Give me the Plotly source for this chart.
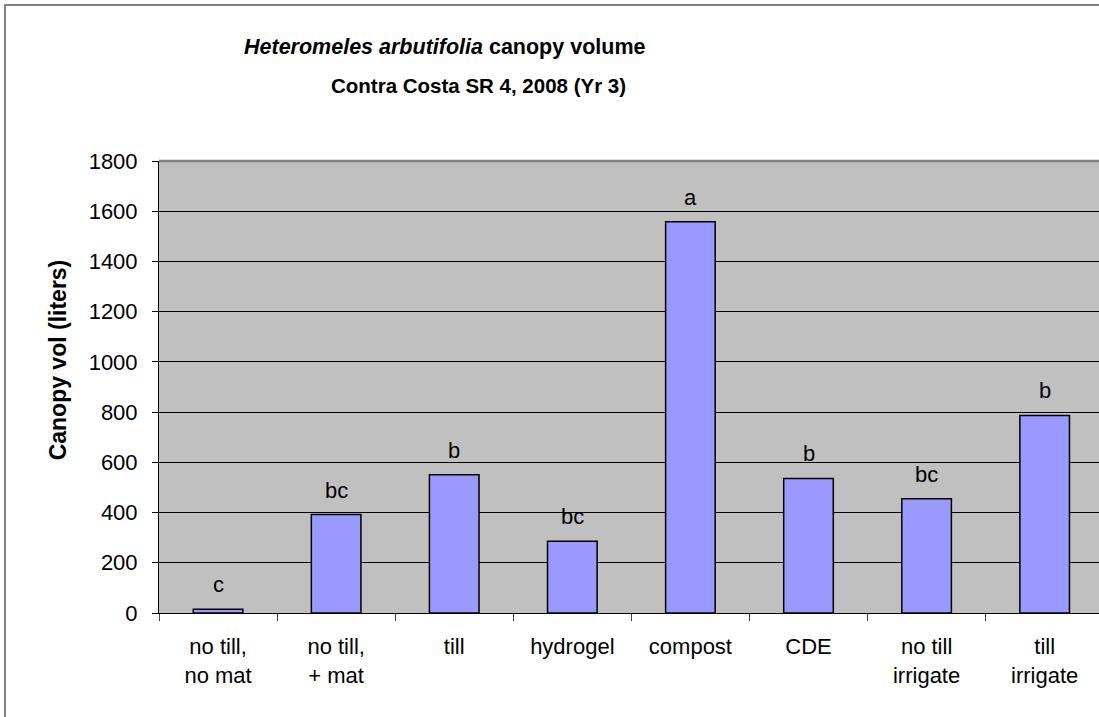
import plotly.graph_objects as go

# treatments and canopy volume (liters)
treatments = ["no till,<br>no mat", "no till,<br>+ mat", "till", "hydrogel",
              "compost", "CDE", "no till<br>irrigate", "till<br>irrigate"]
canopy_vol = [15, 392, 551, 286, 1558, 536, 455, 787]
sig_letters = ["c", "bc", "b", "bc", "a", "b", "bc", "b"]
y_ticks = [0, 200, 400, 600, 800, 1000, 1200, 1400, 1600, 1800]

FONT = "Arial, Liberation Sans, sans-serif"

fig = go.Figure()
fig.add_trace(go.Bar(
    x=treatments,
    y=canopy_vol,
    marker={'color': '#9999FF', 'line': {'color': 'black', 'width': 1.5}},
    hoverinfo='x+y',
))

for t, v, s in zip(treatments, canopy_vol, sig_letters):
    fig.add_annotation(x=t, y=v, text=s, showarrow=False, yanchor='bottom',
                       yshift=10, font={'size': 22, 'color': 'black', 'family': FONT})

# title, two separately centred lines like the original
fig.add_annotation(xref='paper', yref='paper', x=0.3043, y=1.252,
                   text="<b><i>Heteromeles arbutifolia</i> canopy volume</b>",
                   showarrow=False, xanchor='center', yanchor='middle',
                   font={'size': 21.5, 'color': 'black', 'family': FONT})
fig.add_annotation(xref='paper', yref='paper', x=0.3404, y=1.166,
                   text="<b>Contra Costa SR 4, 2008 (Yr 3)</b>",
                   showarrow=False, xanchor='center', yanchor='middle',
                   font={'size': 20.5, 'color': 'black', 'family': FONT})
fig.add_annotation(xref='paper', yref='paper', x=-0.108, y=0.56,
                   text="<b>Canopy vol (liters)</b>", textangle=-90,
                   showarrow=False, xanchor='center', yanchor='middle',
                   font={'size': 23, 'color': 'black', 'family': FONT})

# outer chart border and the grey top edge of the plot area
fig.add_shape(type='rect', xref='paper', yref='paper',
              x0=-0.1638, x1=1.05, y0=-0.5, y1=1.345,
              line={'color': '#808080', 'width': 2})
fig.add_shape(type='line', xref='paper', yref='paper',
              x0=0, x1=1, y0=1, y1=1,
              line={'color': '#808080', 'width': 2.5})

fig.update_layout(
    width=1099, height=717,
    margin={'l': 159, 'r': 0, 't': 161, 'b': 104},
    paper_bgcolor='white',
    plot_bgcolor='#C0C0C0',
    showlegend=False,
    bargap=0.58,
    font={'family': FONT, 'color': 'black', 'size': 22},
    xaxis={'type': 'category', 'range': [-0.5, 7.46],
           'tickson': 'boundaries', 'ticks': 'outside', 'ticklen': 7,
           'tickcolor': '#444444', 'showline': True, 'linecolor': 'black',
           'linewidth': 1, 'showgrid': False, 'tickfont': {'size': 22},
           'ticklabelstandoff': 14},
    yaxis={'range': [0, 1800], 'tickvals': y_ticks, 'ticks': 'outside',
           'ticklen': 6, 'tickcolor': 'black', 'showline': True,
           'linecolor': 'black', 'linewidth': 1, 'showgrid': True,
           'gridcolor': 'black', 'gridwidth': 1, 'zeroline': False,
           'ticklabelstandoff': 10, 'tickfont': {'size': 22}},
)

fig.write_html("out.html", config={'displayModeBar': False},
               post_script="document.body.style.margin = '0';")
